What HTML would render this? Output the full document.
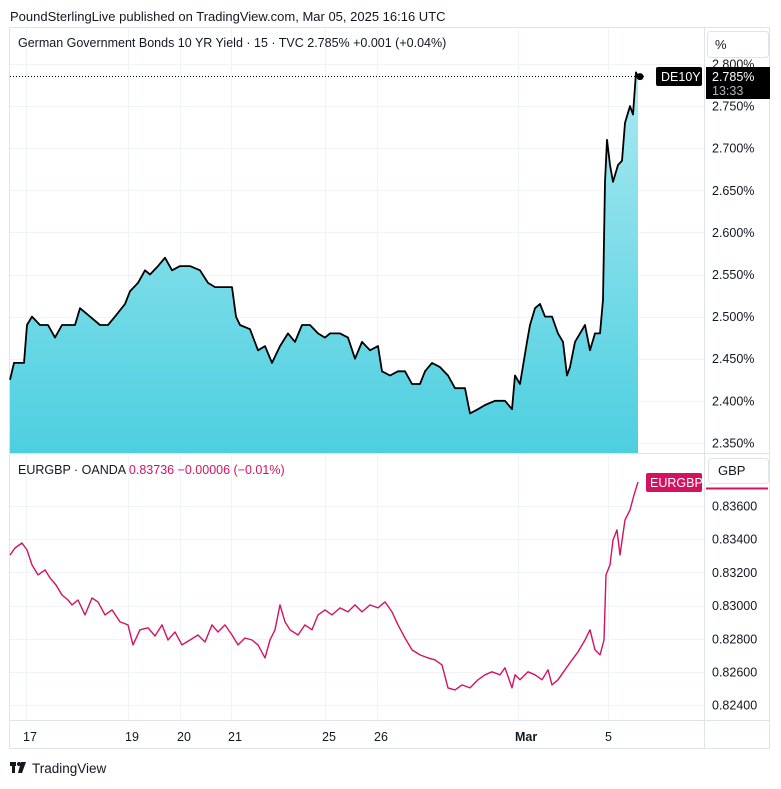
<!DOCTYPE html>
<html><head><meta charset="utf-8"><style>
body{margin:0;background:#fff;font-family:"Liberation Sans",sans-serif;}
svg text{font-family:"Liberation Sans",sans-serif;}
</style></head><body>
<svg id="c" width="781" height="784" xmlns="http://www.w3.org/2000/svg">
<defs><linearGradient id="g" x1="0" y1="0" x2="0" y2="1"><stop offset="0" stop-color="#a9e9f1"/><stop offset="1" stop-color="#4dcfe0"/></linearGradient>
<clipPath id="axclip"><rect x="705" y="54" width="70" height="400"/></clipPath></defs>
<text x="10" y="21" font-size="13" fill="#131722">PoundSterlingLive published on TradingView.com, Mar 05, 2025 16:16 UTC</text>
<rect x="9.5" y="27.5" width="760" height="721" fill="#fff" stroke="#e0e3eb"/>
<g id="grid"></g>
<path id="area" fill="url(#g)"/>
<path id="line1" fill="none" stroke="#000" stroke-width="1.8" stroke-linejoin="round"/>
<path id="line2" fill="none" stroke="#d3135f" stroke-width="1.4" stroke-linejoin="round"/>
<line x1="10" y1="453.5" x2="770" y2="453.5" stroke="#e0e3eb"/>
<line x1="704.5" y1="27" x2="704.5" y2="748" stroke="#e0e3eb"/>
<line x1="10" y1="720.5" x2="770" y2="720.5" stroke="#e0e3eb"/>
<g id="axes"></g>
<text x="18" y="47" font-size="12.5" fill="#131722">German Government Bonds 10 YR Yield · 15 · TVC  2.785%  +0.001 (+0.04%)</text>
<text x="18" y="474" font-size="12.5" fill="#131722">EURGBP · OANDA  <tspan fill="#d3135f">0.83736  −0.00006 (−0.01%)</tspan></text>
<rect x="707.5" y="31.5" width="61" height="26" rx="3" fill="#fff" stroke="#e0e3eb"/>
<text x="715" y="49" font-size="13" fill="#131722">%</text>
<rect x="708.5" y="458.5" width="60" height="25" rx="3" fill="#fff" stroke="#e0e3eb"/>
<text x="718" y="475" font-size="13" fill="#131722">GBP</text>
<line x1="706" y1="488.5" x2="768" y2="488.5" stroke="#d3135f" stroke-width="2"/>
<line x1="10" y1="76.5" x2="645" y2="76.5" stroke="#000" stroke-dasharray="1,2"/>
<circle id="dot" r="3.5" fill="#000"/>
<rect x="656" y="67" width="46" height="19" rx="2" fill="#000"/>
<text x="661" y="81" font-size="12.5" fill="#fff">DE10Y</text>
<rect x="706" y="67" width="64" height="32" fill="#000"/>
<text x="712" y="81" font-size="12.5" fill="#fff">2.785%</text>
<text x="712" y="95" font-size="12.5" fill="#b2b5be">13:33</text>
<rect x="646" y="473" width="56" height="19" rx="2" fill="#d3135f"/>
<text x="650" y="487" font-size="12.5" fill="#fff">EURGBP</text>
<g><rect x="10" y="762" width="6" height="4" fill="#131722"/><rect x="12" y="762" width="3" height="11" fill="#131722"/><circle cx="19" cy="764" r="2" fill="#131722"/><polygon points="21,762 26,762 22,773 18,773" fill="#131722"/>
<text x="32" y="773" font-size="13.5" fill="#131722">TradingView</text></g>
</svg>
<script>
const t1=[0,4,14,17,22,30,38,45,52,65,70,80,90,98,105,115,120,128,135,140,148,155,162,170,180,190,198,205,215,222,226,230,240,248,255,262,270,278,285,292,300,308,315,320,330,338,345,352,360,368,372,380,388,395,402,410,415,422,430,438,445,455,460,468,475,485,495,502,505,510,517,520,525,530,535,542,548,553,557,560,565,570,575,580,585,590,593,595,597,600,603,608,612,615,620,623,626,628];
const v1=[2.425,2.445,2.445,2.49,2.50,2.49,2.49,2.475,2.49,2.49,2.51,2.50,2.49,2.49,2.50,2.515,2.53,2.54,2.555,2.55,2.56,2.57,2.555,2.56,2.56,2.555,2.54,2.535,2.535,2.535,2.50,2.49,2.485,2.46,2.465,2.445,2.465,2.48,2.47,2.49,2.49,2.48,2.475,2.48,2.48,2.475,2.45,2.47,2.46,2.465,2.435,2.43,2.435,2.435,2.42,2.42,2.435,2.445,2.44,2.43,2.415,2.415,2.385,2.39,2.395,2.40,2.40,2.39,2.43,2.42,2.47,2.49,2.51,2.515,2.50,2.50,2.48,2.47,2.43,2.44,2.47,2.48,2.49,2.46,2.48,2.48,2.52,2.66,2.71,2.68,2.66,2.68,2.685,2.73,2.75,2.74,2.79,2.785];
const t2=[0,5,12,17,22,28,35,40,46,52,58,62,68,75,82,88,95,102,110,118,123,130,138,145,152,158,165,172,180,188,195,202,208,215,222,228,235,242,248,255,260,265,270,275,280,288,295,302,308,315,322,330,338,345,352,360,368,375,382,388,395,402,410,418,425,432,438,445,452,460,468,475,482,490,495,502,505,510,518,525,532,538,542,548,555,562,568,575,580,585,590,594,596,600,603,607,610,615,620,624,628];
const v2=[.83305,.83347,.83377,.83335,.83245,.83185,.83215,.83167,.83124,.83064,.83034,.83004,.83034,.82944,.83046,.83022,.82944,.82974,.82902,.82884,.82763,.82854,.82866,.82817,.82884,.82793,.82841,.82763,.82793,.82823,.82781,.82884,.82841,.82884,.82823,.82763,.82805,.82793,.82763,.82685,.82793,.82854,.83004,.82902,.82854,.82823,.82884,.82854,.82944,.82974,.82944,.82986,.82962,.83004,.82962,.83004,.82986,.83022,.82962,.82884,.82805,.82733,.82703,.82685,.82673,.82643,.82504,.82492,.82522,.82504,.82553,.82583,.82601,.82583,.82625,.82504,.82583,.82553,.82601,.82583,.82553,.82613,.82522,.82553,.82613,.82673,.82721,.82793,.82854,.82733,.82703,.82793,.83185,.83245,.83395,.83456,.83305,.83516,.83576,.83666,.83744];
const yTicks1=[2.80,2.75,2.70,2.65,2.60,2.55,2.50,2.45,2.40,2.35];
const yTicks2=[.836,.834,.832,.830,.828,.826,.824];
const xLabels=["17","19","20","21","25","26","Mar","5"];
const xLabelT=[16,118,170,221,315,367,508,598];
const X=t=>10+t;
const Y1=v=>64+(2.80-v)/0.05*42.1;
const Y2=v=>506+(0.836-v)/0.002*33.2;
const NS="http://www.w3.org/2000/svg";
const grid=document.getElementById('grid'),axes=document.getElementById('axes');
function mk(tag,attrs,parent){const e=document.createElementNS(NS,tag);for(const k in attrs)e.setAttribute(k,attrs[k]);parent.appendChild(e);return e;}
xLabelT.forEach((t,i)=>{
 const gl=mk('line',{x1:X(t)+.5,x2:X(t)+.5,y1:28,y2:720,stroke:'#f0f3fa'},grid);
 
 
 const tx=mk('text',{x:X(t)-3,y:741,'font-size':12.5,fill:'#131722','font-weight':xLabels[i]==='Mar'?'bold':'normal'},axes);
 tx.textContent=xLabels[i];
 
 
});
yTicks1.forEach(v=>{
 const y=Y1(v);
 const gl=mk('line',{x1:10,x2:704,y1:Math.round(y)+.5,y2:Math.round(y)+.5,stroke:'#f0f3fa'},grid);
 
 
 const tx=mk('text',{x:712,y:y+4.5,'font-size':12.5,fill:'#131722','clip-path':'url(#axclip)'},axes);
 tx.textContent=v.toFixed(3)+'%';
 
 
});
yTicks2.forEach(v=>{
 const y=Y2(v);
 const gl=mk('line',{x1:10,x2:704,y1:Math.round(y)+.5,y2:Math.round(y)+.5,stroke:'#f0f3fa'},grid);
 
 
 const tx=mk('text',{x:712,y:y+4.5,'font-size':12.5,fill:'#131722'},axes);
 tx.textContent=v.toFixed(5);
 
 
});
let d1=t1.map((t,i)=>(i?'L':'M')+X(t)+','+Y1(v1[i]).toFixed(1)).join('');
document.getElementById('line1').setAttribute('d',d1);
document.getElementById('area').setAttribute('d',d1+'L'+X(t1[t1.length-1])+',453L'+X(t1[0])+',453Z');
document.getElementById('line2').setAttribute('d',t2.map((t,i)=>(i?'L':'M')+X(t)+','+Y2(v2[i]).toFixed(1)).join(''));
const dot=document.getElementById('dot');dot.setAttribute('cx',X(t1[t1.length-1])+2);dot.setAttribute('cy',Y1(v1[v1.length-1]));
</script>
</body></html>
